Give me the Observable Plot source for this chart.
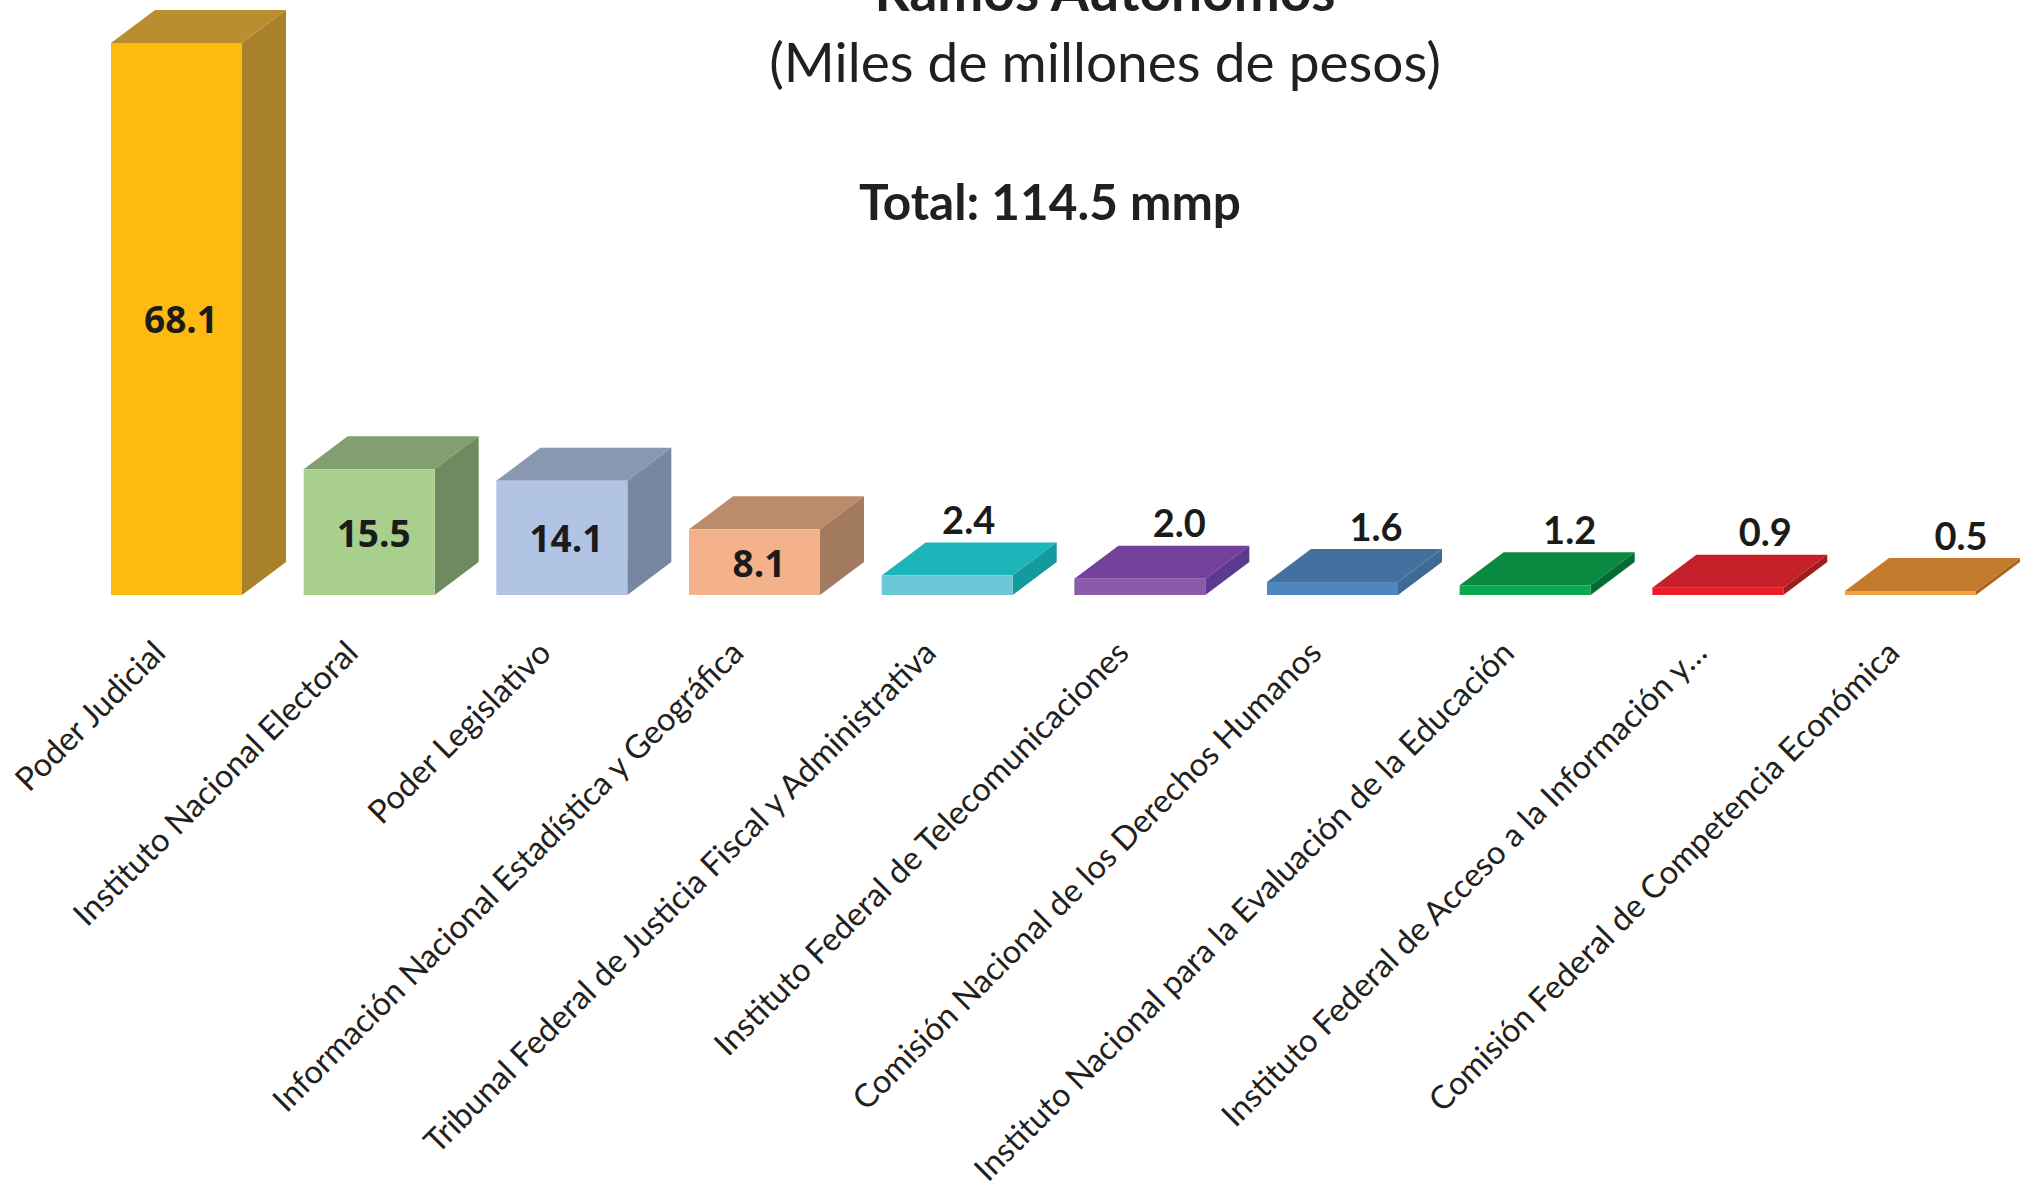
<!DOCTYPE html>
<html lang="es">
<head>
<meta charset="utf-8">
<title>Ramos Autónomos</title>
<script src="https://cdn.jsdelivr.net/npm/d3@7"></script>
<script src="https://cdn.jsdelivr.net/npm/@observablehq/plot@0.6"></script>
<style>
  html, body { margin: 0; padding: 0; background: #fff; overflow: hidden; }
  #page { position: relative; width: 2028px; height: 1190px; overflow: hidden; font-family: Lato, sans-serif; color: #231f20; }
  .t { position: absolute; white-space: nowrap; line-height: 1; transform: translateX(-50%); }
  #title { left: 1105px; top: -37px; font-size: 55px; font-weight: 700; }
  #sub { left: 1105px; top: 34px; font-size: 55px; font-weight: 400; }
  #total { left: 1050px; top: 177px; font-size: 49.5px; font-weight: 700; }
  svg { position: absolute; left: 0; top: 0; }
</style>
</head>
<body>
<div id="page">
  <div class="t" id="title"></div>
  <div class="t" id="sub"></div>
  <div class="t" id="total"></div>
  <div id="chart"></div>
</div>
<script>
const titleText = "Ramos Autónomos";
const subtitleText = "(Miles de millones de pesos)";
const totalText = "Total: 114.5 mmp";

const categories = [
  "Poder Judicial",
  "Instituto Nacional Electoral",
  "Poder Legislativo",
  "Información Nacional Estadística y Geográfica",
  "Tribunal Federal de Justicia Fiscal y Administrativa",
  "Instituto Federal de Telecomunicaciones",
  "Comisión Nacional de los Derechos Humanos",
  "Instituto Nacional para la Evaluación de la Educación",
  "Instituto Federal de Acceso a la Información y…",
  "Comisión Federal de Competencia Económica"
];
const values = [68.1, 15.5, 14.1, 8.1, 2.4, 2.0, 1.6, 1.2, 0.9, 0.5];
const frontColors = ["#fdbb12", "#a8cf8b", "#b1c4e4", "#f4b28a", "#6cc7d8", "#8b5aa8", "#4f86c0", "#0ca64f", "#ed1c2b", "#f0a145"];
const topColors   = ["#b88e2e", "#819f6f", "#8798b0", "#bc8b6c", "#1cb5b9", "#73409a", "#44709f", "#0a8a40", "#c5202a", "#c47a2c"];
const sideColors  = ["#a8812a", "#6f8a5e", "#76879f", "#a27a5f", "#129a9c", "#5c3a8f", "#3f6a96", "#056b30", "#9e1b20", "#a8651f"];

document.getElementById("title").textContent = titleText;
document.getElementById("sub").textContent = subtitleText;
document.getElementById("total").textContent = totalText;

const rows = categories.map((name, i) => ({
  name, value: values[i], front: frontColors[i], top: topColors[i], side: sideColors[i]
}));

const depthX = 44, depthY = 33;

function box3d(index, scales, channels, dims, ctx, next) {
  const g = next(index, scales, channels, dims, ctx);
  const bw = typeof scales.x.bandwidth === "function" ? scales.x.bandwidth() : scales.x.bandwidth;
  const y0 = scales.y(0);
  const ns = "http://www.w3.org/2000/svg";
  const layer = document.createElementNS(ns, "g");
  rows.forEach(r => {
    const x = scales.x(r.name), y = scales.y(r.value);
    const topFace = document.createElementNS(ns, "polygon");
    topFace.setAttribute("points", `${x},${y} ${x + bw},${y} ${x + bw + depthX},${y - depthY} ${x + depthX},${y - depthY}`);
    topFace.setAttribute("fill", r.top);
    const sideFace = document.createElementNS(ns, "polygon");
    sideFace.setAttribute("points", `${x + bw},${y} ${x + bw + depthX},${y - depthY} ${x + bw + depthX},${y0 - depthY} ${x + bw},${y0}`);
    sideFace.setAttribute("fill", r.side);
    layer.append(topFace, sideFace);
  });
  g.insertBefore(layer, g.firstChild);
  return g;
}

const inside = rows.slice(0, 4);
const above = rows.slice(4);
const aboveShift = [21, 39, 43, 44, 47, 50];

const chart = Plot.plot({
  width: 2028,
  height: 1190,
  marginTop: 43,
  marginBottom: 595,
  marginLeft: 0,
  marginRight: 0,
  style: { fontFamily: "Lato, sans-serif", background: "transparent", overflow: "visible" },
  x: { domain: categories, range: [111, 1976], paddingInner: 0.32, paddingOuter: 0, round: false, label: null },
  y: { domain: [0, 68.1], label: null, axis: null },
  color: { type: "identity" },
  marks: [
    Plot.barY(rows, { x: "name", y: "value", fill: "front", render: box3d }),
    Plot.axisX({ tickSize: 0, tickPadding: 52, tickRotate: -45, fontSize: 32.5, label: null, fill: "#231f20", dx: -17 }),
    Plot.text(inside, {
      x: "name", y: d => d.value / 2, text: d => d.value.toFixed(1), dx: 4, dy: 2,
      fontSize: 37, fontWeight: 700, fill: "#1b1b1b", fontFamily: "'Open Sans', sans-serif", lineAnchor: "middle"
    }),
    ...above.map((d, i) => Plot.text([d], {
      x: "name", y: "value", text: r => r.value.toFixed(1), dx: aboveShift[i], dy: -54,
      fontSize: 38, fontWeight: 700, fill: "#1b1b1b", fontFamily: "Lato, sans-serif", lineAnchor: "middle"
    }))
  ]
});
document.getElementById("chart").append(chart);
</script>
</body>
</html>
